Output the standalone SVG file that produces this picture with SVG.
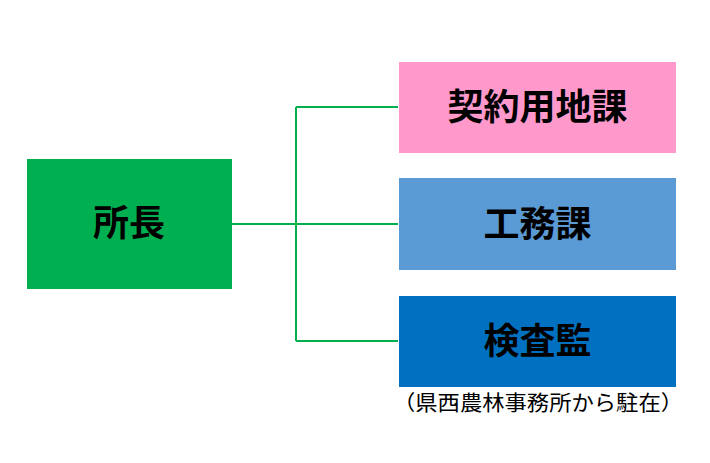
<svg xmlns="http://www.w3.org/2000/svg" width="710" height="463" viewBox="0 0 710 463">
<style>
.t{font-family:"Noto Sans CJK JP","Noto Sans CJK SC",sans-serif;font-weight:bold;font-size:36px;fill:#000;text-anchor:middle;dominant-baseline:central}
.c{font-family:"Noto Sans CJK JP","Noto Sans CJK SC",sans-serif;font-size:21px;fill:#000;text-anchor:middle}
.ln{stroke:#00B050;stroke-width:2;fill:none}
</style>
<rect width="710" height="463" fill="#fff"/>
<g id="connectors">
<path class="ln" d="M232,224 H398"/>
<path class="ln" d="M296,107 V341"/>
<path class="ln" d="M296,107 H398"/>
<path class="ln" d="M296,341 H398"/>
</g>
<g id="shocho">
<rect x="27" y="159" width="205" height="130" fill="#00B050"/>
<text class="t" x="129" y="220">所長</text>
</g>
<g id="keiyaku">
<rect x="399" y="62" width="277" height="91" fill="#FF99CC"/>
<text class="t" x="537.5" y="104">契約用地課</text>
</g>
<g id="koumu">
<rect x="399" y="178" width="277" height="92" fill="#5B9BD5"/>
<text class="t" x="537.5" y="221">工務課</text>
</g>
<g id="kensa">
<rect x="399" y="296" width="277" height="91" fill="#0070C0"/>
<text class="t" x="537.5" y="338">検査監</text>
</g>
<text class="c" x="538" y="410" textLength="290" lengthAdjust="spacingAndGlyphs">（県西農林事務所から駐在）</text>
</svg>
